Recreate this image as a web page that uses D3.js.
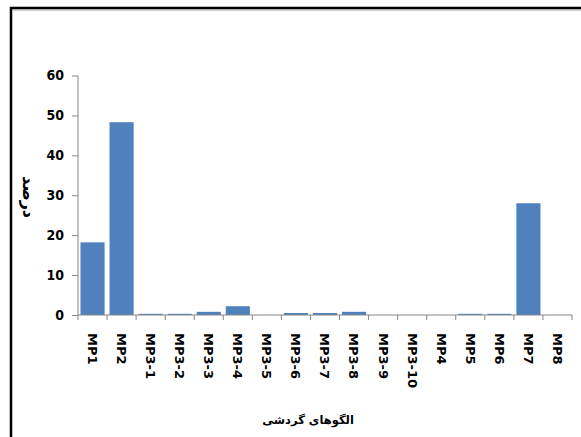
<html>
<head>
<meta charset="UTF-8">
<title>الگوهای گردشی</title>
<script src="https://d3js.org/d3.v7.min.js"></script>
<style>
html,body{margin:0;padding:0;background:#fff;}
svg{display:block;}
.axis text{font-family:"DejaVu Sans",sans-serif;font-weight:bold;font-size:13px;fill:#000;}
.y.axis text{font-family:"DejaVu Sans Condensed","DejaVu Sans",sans-serif;font-size:14px;}
.axis path,.axis line{stroke:#868686;}
.title{font-family:"DejaVu Sans","Noto Sans",sans-serif;font-weight:bold;font-size:11.5px;fill:#000;}
</style>
</head>
<body>
<div id="container"></div>
<script>
const categories = ["MP1","MP2","MP3-1","MP3-2","MP3-3","MP3-4","MP3-5","MP3-6","MP3-7","MP3-8","MP3-9","MP3-10","MP4","MP5","MP6","MP7","MP8"]
const values = [18.2, 48.3, 0.3, 0.3, 0.8, 2.2, 0, 0.5, 0.5, 0.8, 0, 0, 0, 0.3, 0.3, 28, 0]
const yTicks = [0, 10, 20, 30, 40, 50, 60]
const xTitle = "الگوهای گردشی"
const yTitle = "درصد"

const W = 581, H = 437
const marge = {top: 75.5, left: 78, right: 9, bottom: 122}
const width = W - marge.left - marge.right
const height = H - marge.top - marge.bottom

const svg = d3.select("#container").append("svg")
    .attr("width", W).attr("height", H)

// outer frame
svg.append("rect")
    .attr("x", 11).attr("y", 8)
    .attr("width", W + 10).attr("height", H + 10)
    .attr("fill", "none").attr("stroke", "#000").attr("stroke-width", 2.5)
svg.append("line")
    .attr("x1", 12.5).attr("x2", W).attr("y1", 10).attr("y2", 10)
    .attr("stroke", "#999").attr("stroke-width", 1)

const g = svg.append("g")
    .attr("transform", "translate(" + marge.left + "," + marge.top + ")")

const xScale = d3.scaleBand().domain(categories).range([0, width]).paddingInner(0.17).paddingOuter(0.085)
const xTicks = d3.scaleLinear().domain([0, categories.length]).range([0, width])
const yScale = d3.scaleLinear().domain([0, 60]).range([height, 0])

// y axis
const yAxis = g.append("g").attr("class", "y axis")
    .call(d3.axisLeft(yScale).tickValues(yTicks).tickSize(6).tickPadding(8))
yAxis.select(".domain").attr("d", "M0," + yScale(60) + "V" + yScale(0))

// bars
g.selectAll(".bar").data(values).enter().append("rect")
    .attr("class", "bar")
    .attr("x", (d, i) => xScale(categories[i]))
    .attr("width", xScale.bandwidth())
    .attr("y", d => yScale(d))
    .attr("height", d => yScale(0) - yScale(d))
    .attr("fill", "#4f81bd")

// x axis line + ticks between categories
const xg = g.append("g").attr("class", "axis").attr("transform", "translate(0," + height + ")")
xg.append("line").attr("x1", 0).attr("x2", width).attr("y1", 0).attr("y2", 0)
xg.selectAll(".tk").data(d3.range(categories.length + 1)).enter().append("line")
    .attr("x1", d => xTicks(d)).attr("x2", d => xTicks(d))
    .attr("y1", 0).attr("y2", 5)
xg.selectAll(".lbl").data(categories).enter().append("text")
    .attr("transform", d => "translate(" + (xScale(d) + xScale.bandwidth() / 2) + ",18) rotate(90)")
    .attr("dy", "0.35em")
    .attr("text-anchor", "start")
    .text(d => d)

// titles
svg.append("text").attr("class", "title")
    .attr("x", 308).attr("y", 424)
    .attr("text-anchor", "middle")
    .text(xTitle)

svg.append("text").attr("class", "title")
    .attr("transform", "translate(29,197) rotate(90)")
    .attr("text-anchor", "middle")
    .attr("dy", "0.35em")
    .style("font-size", "16px")
    .text(yTitle)
</script>
</body>
</html>
